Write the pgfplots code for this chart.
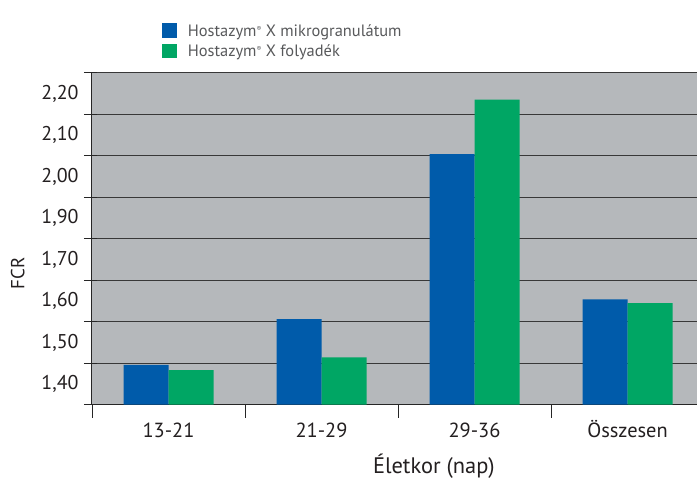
\documentclass[border=0pt]{standalone}
\usepackage{pgfplots}
\pgfplotsset{compat=1.18}
\usepackage{fontspec}
\setmainfont{PT Sans}
\usetikzlibrary{calc}
\definecolor{bgc}{RGB}{181,184,187}
\definecolor{blu}{RGB}{0,91,170}
\definecolor{grn}{RGB}{0,166,100}
\definecolor{txt}{RGB}{35,31,32}
\definecolor{legtxt}{RGB}{88,89,91}
\newcommand{\reg}{{\fontsize{7}{7}\selectfont\raisebox{1.3ex}{®}}}
\begin{document}
\begin{tikzpicture}
\begin{axis}[name=ax,
  scale only axis, width=605bp, height=332bp,
  xmin=-0.5, xmax=3.454, ymin=1.35, ymax=2.15,
  axis background/.style={fill=bgc},
  axis x line=bottom, axis y line=left,
  axis line style={-, draw=black!85, line width=1bp},
  ybar, bar width=45bp,
  xtick={0,1,2,3}, xticklabels={13-21,21-29,29-36,Összesen},
  minor xtick={-0.5,0.5,1.5,2.5},
  ytick={1.4,1.5,1.6,1.7,1.8,1.9,2.0,2.1},
  yticklabels={{1,40},{1,50},{1,60},{1,70},{1,90},{2,00},{2,10},{2,20}},
  minor ytick={1.35,1.45,1.55,1.65,1.75,1.85,1.95,2.05,2.15},
  yminorgrids=true,
  minor grid style={draw=black!78, line width=1.1bp},
  major tick length=0pt,
  minor tick length=13bp,
  tick align=outside,
  every minor tick/.append style={draw=black!85, line width=0.9bp},
  minor y tick style={xshift=5bp},
  yticklabel style={font=\fontsize{20}{24}\selectfont, color=txt, xshift=-10bp},
  xticklabel style={font=\fontsize{20.5}{24}\selectfont, color=txt, anchor=base, yshift=-33bp},
  xlabel={Életkor (nap)},
  xlabel style={font=\fontsize{22.5}{26}\selectfont, color=txt, at={([yshift=-69.3bp]axis description cs:0.565,0)}, anchor=base},
  ylabel={FCR},
  ylabel style={font=\fontsize{19}{22}\selectfont, color=txt, at={([xshift=-67.5bp]axis description cs:0,0.396)}, anchor=base},
  legend style={at={(axis description cs:0.116,1.15)}, anchor=north west, draw=none, fill=none,
    inner sep=0pt, font=\fontsize{16.5}{20}\selectfont, text=legtxt, row sep=3.4bp,
    nodes={inner sep=0pt, text height=13bp, text depth=4bp}},
  legend cell align=left,
  legend image code/.code={\fill[#1, draw=none] (0bp,-6bp) rectangle (15bp,8.4bp); \path (25.5bp,0bp);},
]
\addplot[fill=blu, draw=none, bar shift=-22.5bp] coordinates {(0,1.446) (1,1.556) (2,1.954) (3,1.604)};
\addplot[fill=grn, draw=none, bar shift=22.5bp] coordinates {(0,1.433) (1,1.464) (2,2.085) (3,1.595)};
\legend{Hostazym\reg{} X mikrogranulátum, Hostazym\reg{} X folyadék}
\end{axis}
\pgfresetboundingbox
\path[use as bounding box] ($(ax.south west)+(-92bp,-74.3bp)$) rectangle ($(ax.north east)+(0bp,72.7bp)$);
\end{tikzpicture}
\end{document}
